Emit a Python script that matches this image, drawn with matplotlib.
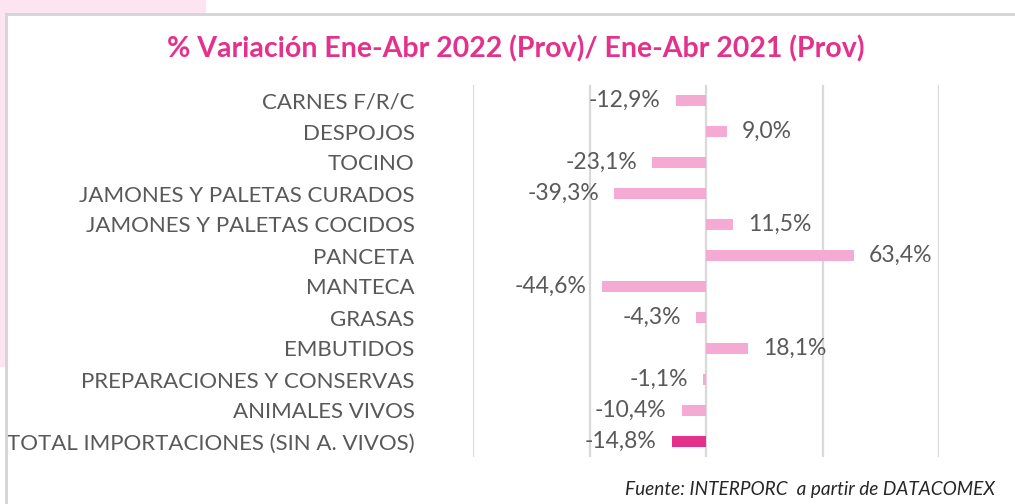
import matplotlib.pyplot as plt
from matplotlib.patches import Rectangle
from matplotlib.lines import Line2D

# Datos: variación % importaciones Ene-Abr 2022 vs Ene-Abr 2021
categorias = [
    "CARNES F/R/C",
    "DESPOJOS",
    "TOCINO",
    "JAMONES Y PALETAS CURADOS",
    "JAMONES Y PALETAS COCIDOS",
    "PANCETA",
    "MANTECA",
    "GRASAS",
    "EMBUTIDOS",
    "PREPARACIONES Y CONSERVAS",
    "ANIMALES VIVOS",
    "TOTAL IMPORTACIONES (SIN A. VIVOS)",
]
variacion = [-12.9, 9.0, -23.1, -39.3, 11.5, 63.4, -44.6, -4.3, 18.1, -1.1, -10.4, -14.8]
ticks_x = [-100, -50, 0, 50, 100]

rosa_claro = "#F4AAD3"
rosa_fuerte = "#E4318C"
gris_texto = "#595959"

plt.rcParams['font.family'] = ['Lato', 'DejaVu Sans']

fig = plt.figure(figsize=(10.15, 5.04), dpi=100)
W, H = 1015, 504

# fondo decorativo y marco del gráfico (en píxeles de figura)
def px_rect(x0, y0, x1, y1, color):
    fig.patches.append(Rectangle((x0 / W, 1 - y1 / H), (x1 - x0) / W, (y1 - y0) / H,
                                 transform=fig.transFigure, color=color, zorder=0))

px_rect(0, 0, 205, 13, "#FCE4F0")
px_rect(0, 13, 5, 366, "#FCE4F0")
fig.lines.append(Line2D([6 / W, 1], [1 - 14 / H, 1 - 14 / H], transform=fig.transFigure,
                        color="#D4D4D4", lw=2))
fig.lines.append(Line2D([6 / W, 6 / W], [0, 1 - 14 / H], transform=fig.transFigure,
                        color="#D4D4D4", lw=2))

ax = fig.add_axes([473 / W, 1 - 457 / H, 466 / W, 372 / H])
ax.set_xlim(-100, 100)
ax.set_ylim(len(categorias) - 0.5, -0.5)

colores = [rosa_claro] * (len(categorias) - 1) + [rosa_fuerte]
ax.barh(range(len(categorias)), variacion, height=0.36, color=colores, zorder=2)

for i, v in enumerate(variacion):
    txt = f"{v:.1f}%".replace(".", ",")
    off = 11 if v >= 0 else -11
    ax.annotate(txt, (v, i), xytext=(off, 0), textcoords="offset points",
                ha="left" if v >= 0 else "right", va="center",
                fontsize=16.5, color=gris_texto)

ax.set_xticks(ticks_x)
ax.xaxis.grid(True, color="#D9D9D9", lw=1.6, zorder=0)
ax.tick_params(axis="x", length=0, labelbottom=False)
ax.set_yticks(range(len(categorias)))
ax.set_yticklabels(categorias, fontsize=16, color=gris_texto)
ax.tick_params(axis="y", length=0, pad=42)
for s in ax.spines.values():
    s.set_visible(False)
ax.set_facecolor("none")

fig.text(516 / W, 1 - 49 / H, "% Variación Ene-Abr 2022 (Prov)/ Ene-Abr 2021 (Prov)",
         ha="center", va="center", fontsize=20.5, fontweight="bold", color=rosa_fuerte)
fig.text(995 / W, 1 - 490 / H, "Fuente: INTERPORC  a partir de DATACOMEX",
         ha="right", va="center", fontsize=13.7, style="italic", color="#262626")

fig.savefig("out.png", dpi=100)
